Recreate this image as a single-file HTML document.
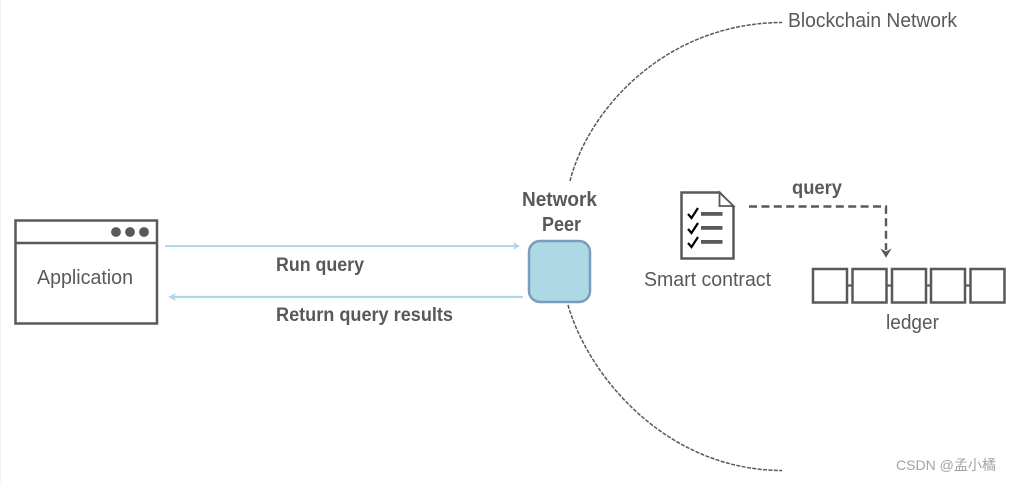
<!DOCTYPE html>
<html>
<head>
<meta charset="utf-8">
<style>
html,body{margin:0;padding:0;background:#fff;width:1011px;height:482px;overflow:hidden}
svg{display:block;filter:blur(0.3px)}
text{font-family:"Liberation Sans","Noto Sans CJK SC",sans-serif;fill:#595959}
.b{font-weight:bold}
</style>
</head>
<body>
<svg width="1011" height="482" viewBox="0 0 1011 482" xmlns="http://www.w3.org/2000/svg">
<rect width="1011" height="482" fill="#fff"/>
<line x1="0.5" y1="0" x2="0.5" y2="482" stroke="#f0f0f0"/>

<!-- Application window -->
<rect x="15.500" y="220.500" width="141.500" height="103" fill="#fff" stroke="#595959" stroke-width="2.5"/>
<line x1="15" y1="243" x2="157" y2="243" stroke="#595959" stroke-width="2.5"/>
<circle cx="116" cy="232" r="4.9" fill="#595959"/>
<circle cx="130" cy="232" r="4.9" fill="#595959"/>
<circle cx="144" cy="232" r="4.9" fill="#595959"/>
<text x="37" y="284" font-size="20" textLength="96" lengthAdjust="spacingAndGlyphs">Application</text>

<!-- Arrows -->
<line x1="165" y1="246" x2="516" y2="246" stroke="#add8e6" stroke-width="2"/>
<path d="M513 242 L520 246 L513 250 L515 246 Z" fill="#add8e6"/>
<line x1="172" y1="297" x2="523" y2="297" stroke="#add8e6" stroke-width="2.2"/>
<path d="M176 293 L168 297 L176 301 L174 297 Z" fill="#add8e6"/>
<text class="b" x="276" y="271" font-size="19" textLength="88" lengthAdjust="spacingAndGlyphs">Run query</text>
<text class="b" x="276" y="321" font-size="19" textLength="177" lengthAdjust="spacingAndGlyphs">Return query results</text>

<!-- Peer -->
<rect x="529" y="241" width="61" height="61" rx="11" fill="#add8e6" stroke="#7a9cbd" stroke-width="2.5"/>
<text class="b" x="522" y="206" font-size="20" textLength="75" lengthAdjust="spacingAndGlyphs">Network</text>
<text class="b" x="542" y="231" font-size="20" textLength="39" lengthAdjust="spacingAndGlyphs">Peer</text>

<!-- Network arcs -->
<path d="M570 181 C588 110 665 23 782 22.500" fill="none" stroke="#595959" stroke-width="1.5" stroke-dasharray="4 1.400"/>
<path d="M568 305 C588 375 665 470 782 470.500" fill="none" stroke="#595959" stroke-width="1.5" stroke-dasharray="4 1.400"/>
<text x="788" y="27" font-size="20" textLength="169" lengthAdjust="spacingAndGlyphs">Blockchain Network</text>

<!-- Smart contract icon -->
<path d="M681.500 192.500 H719.500 L733.500 207 V258.500 H681.500 Z" fill="#fff" stroke="#595959" stroke-width="2.5"/>
<path d="M719.500 192.500 V206 H733.500 Z" fill="#fff" stroke="#595959" stroke-width="1.8"/>
<path d="M688 214 L691.500 218 L698 208" fill="none" stroke="#000" stroke-width="2.2"/>
<path d="M688 229 L691.500 233 L698 223" fill="none" stroke="#000" stroke-width="2.2"/>
<path d="M688 243 L691.500 247 L698 237" fill="none" stroke="#000" stroke-width="2.2"/>
<rect x="701" y="212" width="21.500" height="3.800" fill="#595959"/>
<rect x="701" y="226" width="21.500" height="3.800" fill="#595959"/>
<rect x="701" y="240" width="21.500" height="3.800" fill="#595959"/>
<text x="644" y="286" font-size="20" textLength="127" lengthAdjust="spacingAndGlyphs">Smart contract</text>

<!-- query connector -->
<path d="M749 206.500 H886 V250" fill="none" stroke="#595959" stroke-width="2.4" stroke-dasharray="8 4.400"/>
<path d="M881.500 249.500 L886 257 L890.500 249.500 L886 252 Z" fill="#595959" stroke="#595959" stroke-width="0.8"/>
<text class="b" x="792" y="194" font-size="19" textLength="50" lengthAdjust="spacingAndGlyphs">query</text>

<!-- ledger -->
<g fill="#fff" stroke="#595959" stroke-width="2.5">
<rect x="813" y="269" width="34" height="33.500"/>
<rect x="852.500" y="269" width="34" height="33.500"/>
<rect x="892" y="269" width="34" height="33.500"/>
<rect x="931" y="269" width="34" height="33.500"/>
<rect x="970.500" y="269" width="34" height="33.500"/>
</g>
<g stroke="#595959" stroke-width="2.2">
<line x1="847" y1="285.500" x2="852.500" y2="285.500"/>
<line x1="886.500" y1="285.500" x2="892" y2="285.500"/>
<line x1="926" y1="285.500" x2="931" y2="285.500"/>
<line x1="965" y1="285.500" x2="970.500" y2="285.500"/>
</g>
<text x="886" y="329" font-size="20" textLength="53" lengthAdjust="spacingAndGlyphs">ledger</text>

<!-- watermark -->
<text x="896" y="470" font-size="14" style="fill:#a3a3a3" textLength="100" lengthAdjust="spacingAndGlyphs">CSDN @孟小橘</text>
</svg>
</body>
</html>
